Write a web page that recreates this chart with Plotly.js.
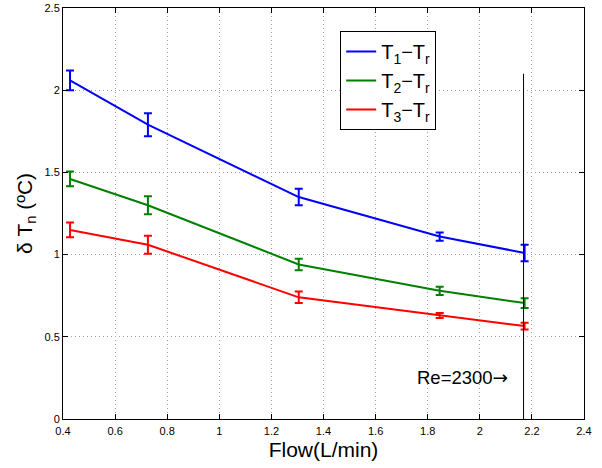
<!DOCTYPE html>
<html>
<head>
<meta charset="utf-8">
<script src="https://cdn.plot.ly/plotly-3.0.1.min.js"></script>
<style>html,body{margin:0;padding:0;background:#fff;}#chart{width:602px;height:468px;}</style>
</head>
<body>
<div id="chart"></div>
<script>
// Data
const flow = [0.427, 0.726, 1.305, 1.846, 2.172];
const dT1 = [2.06, 1.79, 1.35, 1.11, 1.01];
const err1 = [0.06, 0.07, 0.05, 0.025, 0.05];
const dT2 = [1.46, 1.30, 0.94, 0.78, 0.705];
const err2 = [0.045, 0.055, 0.035, 0.025, 0.03];
const dT3 = [1.15, 1.06, 0.74, 0.63, 0.565];
const err3 = [0.045, 0.055, 0.035, 0.015, 0.02];
const seriesNames = ['T<sub>1</sub>\u2212T<sub>r</sub>', 'T<sub>2</sub>\u2212T<sub>r</sub>', 'T<sub>3</sub>\u2212T<sub>r</sub>'];
const seriesColors = ['#0000ff', '#008000', '#ff0000'];
const reFlow = 2.168;        // Re = 2300 marker line position
const reLineY = [0, 2.1];    // vertical extent of marker line
const reLabel = 'Re=2300<span style="font-family:DejaVu Sans">\u2192</span>';
const reLabelY = 0.25;
const xTicks = [0.4, 0.6, 0.8, 1, 1.2, 1.4, 1.6, 1.8, 2, 2.2, 2.4];
const yTicks = [0, 0.5, 1, 1.5, 2, 2.5];

const ys = [dT1, dT2, dT3];
const errs = [err1, err2, err3];
const traces = ys.map((y, i) => ({
  x: flow, y: y, type: 'scatter', mode: 'lines', name: seriesNames[i],
  line: {color: seriesColors[i], width: 2},
  error_y: {type: 'data', array: errs[i], visible: true, color: seriesColors[i], thickness: 2, width: 4}
}));
traces.push({
  x: [reFlow, reFlow], y: reLineY, type: 'scatter', mode: 'lines',
  line: {color: '#000', width: 1}, showlegend: false, hoverinfo: 'skip'
});

const axisCommon = {
  showline: true, linecolor: '#000', linewidth: 1, mirror: 'ticks',
  ticks: 'inside', ticklen: 5, tickcolor: '#000',
  showgrid: true, gridcolor: '#a0a0a0', griddash: '1px,3px', gridwidth: 1,
  zeroline: false, tickfont: {family: 'Liberation Sans, Arial, sans-serif', size: 11, color: '#000'}
};

const layout = {
  width: 602, height: 468,
  margin: {l: 63, r: 18, t: 8, b: 49},
  paper_bgcolor: '#fff', plot_bgcolor: '#fff',
  font: {family: 'Liberation Sans, Arial, sans-serif', color: '#000'},
  xaxis: Object.assign({}, axisCommon, {
    range: [0.4, 2.4], tickvals: xTicks, ticktext: xTicks.map(String),
    ticklabelstandoff: 2,
    title: {text: 'Flow(L/min)', font: {size: 21}, standoff: 6}
  }),
  yaxis: Object.assign({}, axisCommon, {
    range: [0, 2.5], tickvals: yTicks, ticktext: yTicks.map(String),
    title: {text: '\u03b4 T<sub>n</sub> (\u00baC)', font: {size: 21}, standoff: 6}
  }),
  legend: {
    x: 0.532, y: 0.944, xanchor: 'left', yanchor: 'top',
    bordercolor: '#000', borderwidth: 1, bgcolor: '#fff',
    font: {size: 20}, tracegroupgap: 0, itemwidth: 30
  },
  annotations: [{
    x: reFlow, y: reLabelY, xref: 'x', yref: 'y', text: reLabel,
    showarrow: false, xanchor: 'right', xshift: -14, font: {size: 18.5, color: '#000'}
  }],
  showlegend: true
};

Plotly.newPlot('chart', traces, layout, {displayModeBar: false, staticPlot: true});
</script>
</body>
</html>
